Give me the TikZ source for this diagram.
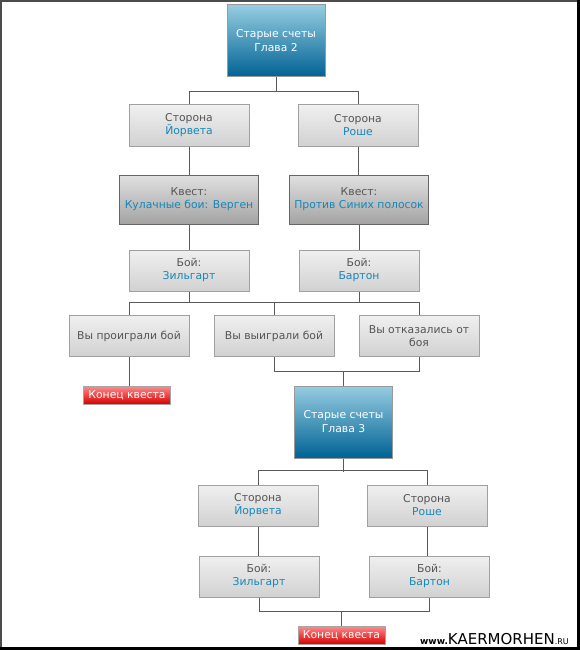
\documentclass[tikz,border=0pt]{standalone}
\usepackage{fontspec}
\setmainfont{DejaVu Sans}
\usepackage{xcolor}
\usepackage{tikz}
\usetikzlibrary{positioning}

\definecolor{txtgray}{RGB}{85,85,85}
\definecolor{txtblue}{RGB}{20,135,185}
\definecolor{boxline}{RGB}{160,160,160}
\definecolor{linkgray}{RGB}{90,90,90}

\newcommand{\who}[2]{{\color{txtgray}#1}\\{\color{txtblue}#2}}

\begin{document}
\begin{tikzpicture}[x=1pt,y=-1pt,
    box/.style={draw=boxline,line width=1pt,top color=white!94!black,bottom color=white!82!black,
        minimum width=120pt,minimum height=41pt,align=center,inner sep=2pt,
        font=\fontsize{10.8}{13}\selectfont,text=txtgray},
    questbox/.style={box,draw=black!60,top color=white!88!black,bottom color=white!64!black,
        minimum width=139pt,minimum height=49pt},
    chapter/.style={draw=black!40,line width=1pt,top color={rgb,255:red,150;green,205;blue,225},
        middle color={rgb,255:red,0;green,150;blue,192},bottom color={rgb,255:red,0;green,98;blue,148},
        minimum width=98pt,minimum height=72pt,align=center,text=white,
        font=\fontsize{10.8}{14}\selectfont},
    endbox/.style={draw=black!35,line width=1pt,top color=red!45!white,middle color=red,
        bottom color=red!85!black,minimum width=87pt,minimum height=18pt,inner sep=1pt,
        text=white,font=\fontsize{10.8}{12}\selectfont},
    link/.style={draw=linkgray,line width=1pt}]

    \useasboundingbox (0,0) rectangle (580,650);

    % Frame
    \draw[line width=2pt,black!70] (1,650) -- (1,1) -- (580,1);
    \draw[line width=3pt,black] (0,648.5) -- (578.5,648.5) -- (578.5,0);

    % Chapter 2
    \node[chapter] (ch2) at (276,41) {Старые счеты\\Глава 2};

    \node[box] (yor1) at (189,125.5) {\who{Сторона}{Йорвета}};
    \node[box] (roche1) at (358,125.5) {\who{Сторона}{Роше}};

    \node[questbox] (quest1) at (189,199.5) {\who{Квест:}{Кулачные бои: Верген}};
    \node[questbox] (quest2) at (359,199.5) {\who{Квест:}{Против Синих полосок}};

    \node[box] (zil1) at (189,270.5) {\who{Бой:}{Зильгарт}};
    \node[box] (bart1) at (359,270.5) {\who{Бой:}{Бартон}};

    % Outcomes
    \node[box] (lose) at (129,336) {Вы проиграли бой};
    \node[box] (win) at (274,336) {Вы выиграли бой};
    \node[box] (refuse) at (419,336) {Вы отказались от\\боя};

    \node[endbox] (end1) at (127,395) {Конец квеста};

    % Chapter 3
    \node[chapter] (ch3) at (343.5,422) {Старые счеты\\Глава 3};

    \node[box] (yor2) at (258,505.5) {\who{Сторона}{Йорвета}};
    \node[box] (roche2) at (427,505.5) {\who{Сторона}{Роше}};

    \node[box] (zil2) at (259,576.5) {\who{Бой:}{Зильгарт}};
    \node[box] (bart2) at (429.5,576.5) {\who{Бой:}{Бартон}};

    \node[endbox] (end2) at (341.5,635) {Конец квеста};

    % Links
    \draw[link] (ch2.south) -- ++(0,15);
    \draw[link] (yor1.north) -- ++(0,-13) -| (roche1.north);
    \draw[link] (yor1.south) -- (yor1.south |- quest1.north);
    \draw[link] (roche1.south) -- (roche1.south |- quest2.north);
    \draw[link] (quest1.south) -- (quest1.south |- zil1.north);
    \draw[link] (quest2.south) -- (quest2.south |- bart1.north);

    \draw[link] (zil1.south) -- ++(0,11);
    \draw[link] (bart1.south) -- ++(0,11);
    \draw[link] (lose.north) -- ++(0,-13) -| (refuse.north);
    \draw[link] (win.north) -- ++(0,-13);

    \draw[link] (lose.south) -- (lose.south |- end1.north);
    \draw[link] (win.south) -- ++(0,14) -| (refuse.south);
    \draw[link] (ch3.north) -- ++(0,-15);

    \draw[link] (ch3.south) -- ++(0,13);
    \draw[link] (yor2.north) -- ++(0,-14) -| (roche2.north);
    \draw[link] (yor2.south) -- (yor2.south |- zil2.north);
    \draw[link] (roche2.south) -- (roche2.south |- bart2.north);
    \draw[link] (zil2.south) -- ++(0,14) -| (bart2.south);
    \draw[link] (end2.north) -- ++(0,-15);

    % Watermark
    \node[anchor=south east,inner sep=0pt] (site) at (569,645)
        {\fontsize{9}{9}\selectfont\bfseries www.\fontsize{15}{15}\selectfont\mdseries KAERMORHEN\fontsize{8}{8}\selectfont.RU};
\end{tikzpicture}
\end{document}
